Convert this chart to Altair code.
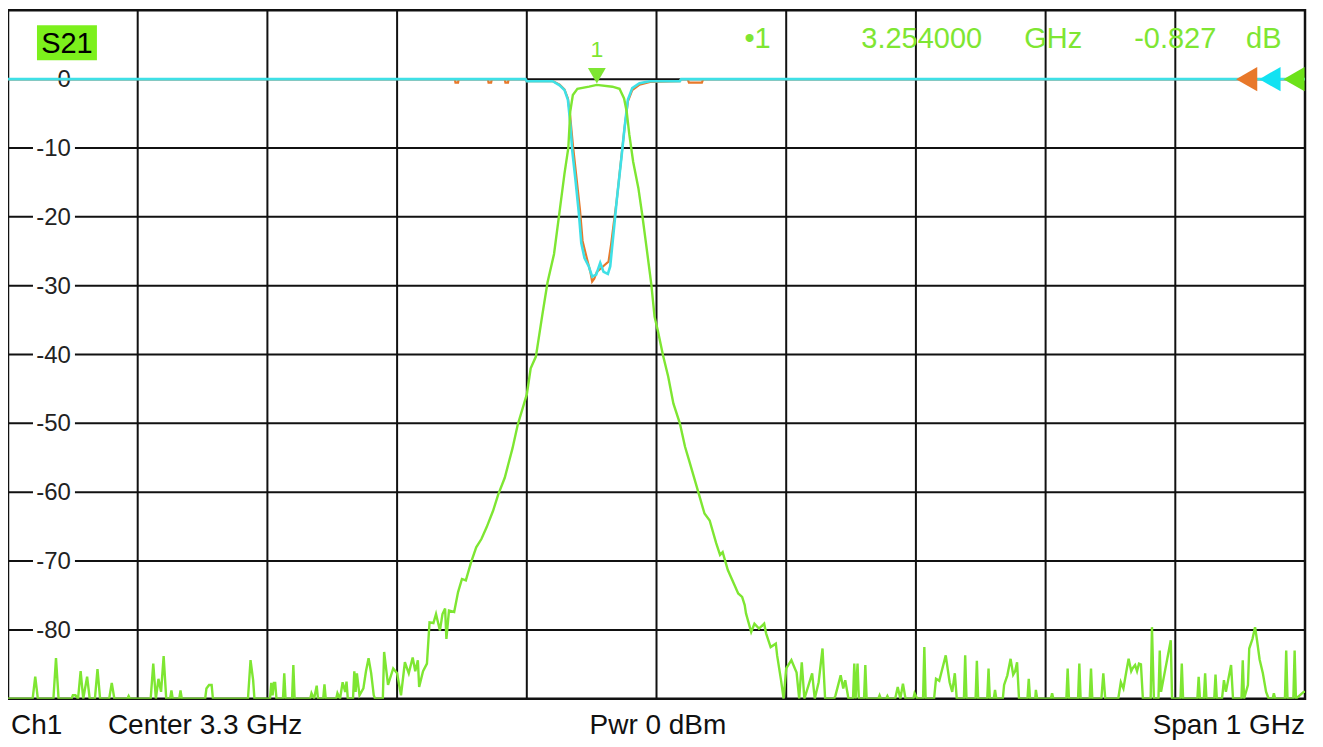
import altair as alt
import pandas as pd

# ---------------- data (frequency in MHz, level in dB) ----------------
F_START, F_STOP = 2800, 3800          # Center 3.3 GHz, Span 1 GHz
DB_TOP, DB_BOTTOM = 10, -90

grid_freq = list(range(2900, 3800, 100))
grid_db = list(range(0, -90, -10))
tick_db = [0, -10, -20, -30, -40, -50, -60, -70, -80]
tick_labels = ["0", "-10", "-20", "-30", "-40", "-50", "-60", "-70", "-80"]

# S21 (green) - noise floor left of the passband
s21_left = [
    (2800, -90), (2819, -90), (2821, -86.8), (2823, -90), (2835, -90), (2837, -84.1), (2839, -90),
    (2849, -90), (2850, -89.5), (2852, -89.5), (2854, -90), (2856, -86), (2858, -90), (2861, -86.8), (2863, -90),
    (2867, -90), (2869, -85.7), (2871, -90), (2878, -90), (2880, -87.7), (2882, -90), (2892, -90), (2893, -89.6), (2894, -90),
    (2910, -90), (2912, -84.9), (2914, -90), (2916, -87.1), (2918, -89), (2920, -83.8), (2922, -90),
    (2925, -90), (2926, -88.8), (2927, -90), (2932, -90), (2933, -88.8), (2934, -90),
    (2952, -90), (2953, -88.5), (2955, -88), (2957, -88), (2958, -90),
    (2985, -90), (2987, -84.4), (2989, -87.3), (2990, -90),
    (3002, -90), (3003, -87.7), (3004, -89.5), (3005, -87.7), (3006, -87.7), (3007, -90),
    (3012, -90), (3013, -86.3), (3014, -90), (3019, -90), (3020, -85.1), (3021, -90),
    (3033, -90), (3034, -89.2), (3036, -90), (3038, -88.1), (3039, -90), (3043, -90), (3044, -87.9), (3045, -90),
    (3053, -90), (3054, -89.2), (3056, -90), (3058, -87.6), (3060, -89), (3061, -87.5), (3062, -90),
    (3066, -90), (3067, -86), (3068, -89), (3069, -86.3), (3071, -89.5), (3074, -88.5), (3076, -86),
    (3078, -84.1), (3080, -86.3), (3082, -89.5), (3083, -90),
    (3089, -90), (3090, -83.2), (3093, -88), (3097, -85.6), (3100, -86.3), (3103, -89.5), (3106, -84.7),
    (3109, -86.3), (3112, -84), (3114, -86), (3116, -84.4), (3117, -88.3), (3120, -86), (3123, -84.9),
]

# S21 (green) - skirts and passband
s21_band = [
    (3125, -78.9), (3128, -79.0), (3130, -77.7), (3133, -80.1), (3135, -77.7), (3137, -76.9), (3138, -81.3),
    (3140, -77.2), (3144, -77.4), (3147, -74.5), (3150, -72.6), (3153, -72.8), (3157, -70.2), (3161, -68),
    (3165, -66.8), (3169, -65.1), (3174, -62.7), (3178, -60.3), (3183, -57.9), (3189, -53.6), (3193, -50.2),
    (3200, -45.8), (3203, -42), (3207, -40.3), (3212, -34.2), (3216, -29.5), (3221, -25.4), (3225, -19.6),
    (3229, -13.8), (3232, -10), (3233.5, -4.7), (3235.5, -2.3), (3239, -1.4), (3248, -1.1), (3254, -0.83),
    (3266, -1.1), (3271.5, -1.4), (3275, -2.8), (3277, -4.7), (3279, -8), (3282, -12), (3286, -15.8),
    (3289, -19.7), (3292, -24), (3296, -29.8), (3298.5, -34.5), (3301, -36.5), (3305, -40.1), (3309, -43.2),
    (3313, -47.1), (3318, -50), (3322, -53.4), (3325, -55.3), (3331, -59.2), (3337, -63.1), (3341, -64.1),
    (3346, -67.4), (3349, -69.1), (3351, -68.7), (3355, -71.3), (3363, -74.7), (3366, -75.2), (3368, -76.4),
    (3369, -77.6), (3373, -80.3), (3375.5, -79.1), (3379, -79.8), (3383, -79.1), (3384.5, -80.5),
    (3388, -82.5), (3392, -82), (3393, -83.7), (3396, -87.3), (3398, -90),
]

# S21 (green) - noise floor right of the passband
s21_right = [
    (3400, -85.6), (3404, -84.4), (3408, -86.2), (3410, -90), (3412, -84.7), (3414, -90), (3420, -86.3),
    (3422, -90), (3425, -87.6), (3428, -82.7), (3430, -90),
    (3437, -90), (3438, -89.5), (3442, -86.6), (3444, -88.5), (3445.5, -87.3), (3448, -90),
    (3451.5, -90), (3452.5, -84.9), (3453.5, -90), (3455, -84.9), (3456, -90), (3460, -90), (3461, -85.1), (3462, -90),
    (3471, -90), (3472, -89.5), (3473, -90), (3477, -90), (3478, -89.6), (3479, -90), (3484, -90), (3486, -88.3),
    (3488, -90), (3490, -87.8), (3492, -90),
    (3498, -90), (3499, -89.2), (3501, -90), (3505.5, -90), (3506.5, -82.5), (3507.5, -90),
    (3514, -90), (3515.5, -87.1), (3518, -87.4), (3523, -83.7), (3526, -87.6), (3528, -89), (3530, -86.3), (3531.5, -90),
    (3537, -90), (3538, -83.7), (3539, -90), (3546, -90), (3547, -84.5), (3548, -90),
    (3555, -90), (3556, -85.6), (3557, -90), (3560, -90), (3561, -88.7), (3562, -90),
    (3567, -90), (3568, -88), (3570.5, -86.6), (3573, -84.2), (3575, -86.5), (3576.5, -86), (3578, -84.7), (3579.5, -90),
    (3586, -90), (3587, -87.1), (3588, -90), (3592, -90), (3592.5, -88.7), (3593.5, -90), (3604, -90), (3605, -89.2), (3606, -90),
    (3616, -90), (3617, -85.6), (3618, -90), (3625, -90), (3626, -84.9), (3627, -90), (3634, -90), (3635, -85.6), (3636, -90),
    (3643, -90), (3644.5, -86.3), (3646, -90),
    (3656, -90), (3658, -87.6), (3660, -88.5), (3662, -86.3), (3664, -84.2), (3666, -86), (3667, -85.6),
    (3669, -85.1), (3670.5, -86), (3672, -84.9), (3673.5, -85), (3675, -90),
    (3681, -90), (3682, -79.6), (3683.5, -90), (3687, -90), (3688, -83), (3689, -89), (3696.5, -81.5), (3697.5, -90),
    (3704, -90), (3705, -84.9), (3706, -90), (3717, -90), (3718, -86.8), (3719, -90), (3722, -90), (3723, -86.3), (3724, -90),
    (3730, -90), (3731, -86.5), (3732, -90), (3736, -90), (3737.5, -87.3), (3739, -89), (3743, -85.1), (3744.5, -90),
    (3751, -90), (3752, -84.4), (3753, -90), (3756, -88), (3757, -82.7), (3759.5, -81.3), (3761.5, -79.6),
    (3763, -81.5), (3765, -84.3), (3767.5, -86.3), (3770, -89), (3772, -90),
    (3775, -90), (3776, -89.2), (3777, -90), (3784.5, -90), (3785.5, -83), (3786.5, -90), (3791, -90), (3792, -83),
    (3793, -90), (3799, -89), (3800, -89),
]

# S11 (cyan) reflection
s11 = [
    (2800, 0), (3199, 0), (3200, -0.3), (3220, -0.3), (3225.3, -0.9), (3229.1, -1.6), (3231.7, -3),
    (3233.5, -6.4), (3235, -10.3), (3237.5, -14.6), (3240.1, -19.4), (3242, -23.8), (3244.5, -26),
    (3247.8, -27.2), (3250.4, -28.7), (3253.5, -28.4), (3256.6, -26.7), (3259.2, -28), (3262.5, -28.3),
    (3264.3, -27.2), (3266.9, -22.3), (3269.4, -17.5), (3272.8, -11.7), (3275.4, -7), (3277.9, -3),
    (3281.3, -1.3), (3286.9, -0.6), (3294.6, -0.3), (3318, -0.3), (3319, 0), (3800, 0),
]

# S22 (orange) reflection
s22 = [
    (2800, 0), (3144.5, 0), (3145, -0.5), (3147, -0.5), (3147.5, 0), (3170, 0), (3170.5, -0.5), (3172.5, -0.5),
    (3173, 0), (3183, 0), (3183.5, -0.5), (3185.5, -0.5), (3186, 0), (3199, 0), (3200, -0.3), (3220, -0.3),
    (3225.3, -0.8), (3229, -1.5), (3231.7, -2.8), (3233.5, -5.5), (3235.5, -9.5), (3238, -13.8), (3241, -19),
    (3243, -23.5), (3246, -25.8), (3249, -28), (3250.4, -29.4), (3252, -29), (3254, -28), (3257, -27.5),
    (3260, -27), (3263, -26.5), (3265, -24), (3267, -21), (3269.4, -17.5), (3272.8, -11.5), (3275.4, -7),
    (3278, -3.2), (3281.3, -1.6), (3287, -0.8), (3295, -0.4), (3318, -0.3), (3319, 0), (3324, 0),
    (3325, -0.5), (3335, -0.5), (3336, 0), (3800, 0),
]

marker_freq = 3254      # MHz
marker_db = -0.827
ref_level_db = 0
ref_arrow_freq = [3755, 3773, 3791.5]
ref_arrow_trace = ["S22", "S11", "S21"]

# ---------------- styles ----------------
GREEN = "#7EE632"
CYAN = "#3FE0E6"
ORANGE = "#E8782A"
GRID = "#111111"
FONT = "Liberation Sans"
W, H = 1298, 689

xs = alt.Scale(domain=[F_START, F_STOP], nice=False, zero=False, padding=0)
ys = alt.Scale(domain=[DB_BOTTOM, DB_TOP], nice=False, zero=False, padding=0)


def X(field):
    return alt.X(field, type="quantitative", scale=xs, axis=None)


def Y(field):
    return alt.Y(field, type="quantitative", scale=ys, axis=None)


def trace_df(points):
    return pd.DataFrame(points, columns=["f", "db"])


df21 = trace_df(s21_left + s21_band + s21_right)
df11 = trace_df(s11)
df22 = trace_df(s22)

vgrid = alt.Chart(pd.DataFrame({"f": grid_freq})).mark_rule(color=GRID, strokeWidth=2).encode(x=X("f"))
hgrid = alt.Chart(pd.DataFrame({"db": grid_db})).mark_rule(color=GRID, strokeWidth=2).encode(y=Y("db"))

ticks = pd.DataFrame({"db": tick_db, "label": tick_labels})
label_bg = alt.Chart(ticks[ticks["db"] < 0]).mark_rule(
    color="white", strokeWidth=24, strokeCap="butt"
).encode(x=alt.value(25), x2=alt.value(67), y=Y("db"))
label_txt = alt.Chart(ticks).mark_text(
    align="right", baseline="middle", fontSize=24, font=FONT, color="#222222", dy=1
).encode(x=alt.value(63), y=Y("db"), text="label:N")

line22 = alt.Chart(df22).mark_line(color=ORANGE, strokeWidth=2.2, clip=True).encode(x=X("f"), y=Y("db"))
line11 = alt.Chart(df11).mark_line(color=CYAN, strokeWidth=2.6, clip=True).encode(x=X("f"), y=Y("db"))
line21 = alt.Chart(df21).mark_line(color=GREEN, strokeWidth=2.4, clip=True).encode(x=X("f"), y=Y("db"))

mk = pd.DataFrame({"f": [marker_freq], "db": [marker_db], "name": ["1"]})
marker_tri = alt.Chart(mk).mark_point(
    shape="triangle-down", filled=True, size=320, color=GREEN, opacity=1, yOffset=-9
).encode(x=X("f"), y=Y("db"))
marker_lbl = alt.Chart(mk).mark_text(
    fontSize=23, font=FONT, color=GREEN, baseline="middle"
).encode(x=X("f"), y=alt.value(40), text="name:N")

arrows = pd.DataFrame({"f": ref_arrow_freq, "db": [ref_level_db] * 3, "trace": ref_arrow_trace})
ref_arrows = alt.Chart(arrows).mark_point(
    shape="triangle-left", filled=True, size=600, opacity=1, clip=True
).encode(
    x=X("f"), y=Y("db"),
    color=alt.Color("trace:N", scale=alt.Scale(domain=["S22", "S11", "S21"], range=[ORANGE, "#12E2F2", "#6CE21A"]), legend=None),
)

# marker read-out at the top right
readout = ["\u20221", f"{marker_freq / 1000:.6f}", "GHz", f"{marker_db:.3f}", "dB"]
readout_x = [737, 854, 1017, 1127, 1239]
readout_layers = [
    alt.Chart(pd.DataFrame({"t": [t]})).mark_text(
        align="left", baseline="alphabetic", fontSize=29, font=FONT, color=GREEN
    ).encode(x=alt.value(px), y=alt.value(38), text="t:N")
    for t, px in zip(readout, readout_x)
]

# trace title box
s21_box = alt.Chart(pd.DataFrame({"t": ["S21"]})).mark_rect(color="#7CF01C").encode(
    x=alt.value(29), x2=alt.value(89), y=alt.value(15), y2=alt.value(50)
)
s21_txt = alt.Chart(pd.DataFrame({"t": ["S21"]})).mark_text(
    align="center", baseline="alphabetic", fontSize=29, font=FONT, color="#000000"
).encode(x=alt.value(59), y=alt.value(43), text="t:N")

# channel info line under the grid
footer = [("Ch1", "left", 3), ("Center  3.3 GHz", "left", 100), ("Pwr  0 dBm", "left", 582), ("Span  1 GHz", "right", 1298)]
footer_layers = [
    alt.Chart(pd.DataFrame({"t": [t]})).mark_text(
        align=a, baseline="alphabetic", fontSize=28, font=FONT, color="#111111"
    ).encode(x=alt.value(px), y=alt.value(724), text="t:N")
    for t, a, px in footer
]

chart = alt.layer(
    vgrid, hgrid, label_bg, label_txt, line22, line11, line21,
    marker_tri, marker_lbl, ref_arrows, s21_box, s21_txt,
    *readout_layers, *footer_layers,
).properties(
    width=W, height=H,
    autosize=alt.AutoSizeParams(type="none"),
    padding={"left": 0, "top": 2, "right": 10, "bottom": 44},
    background="white",
).configure_view(stroke=GRID, strokeWidth=2.5)

chart.save("out.html", embed_options={"renderer": "svg", "actions": False})
